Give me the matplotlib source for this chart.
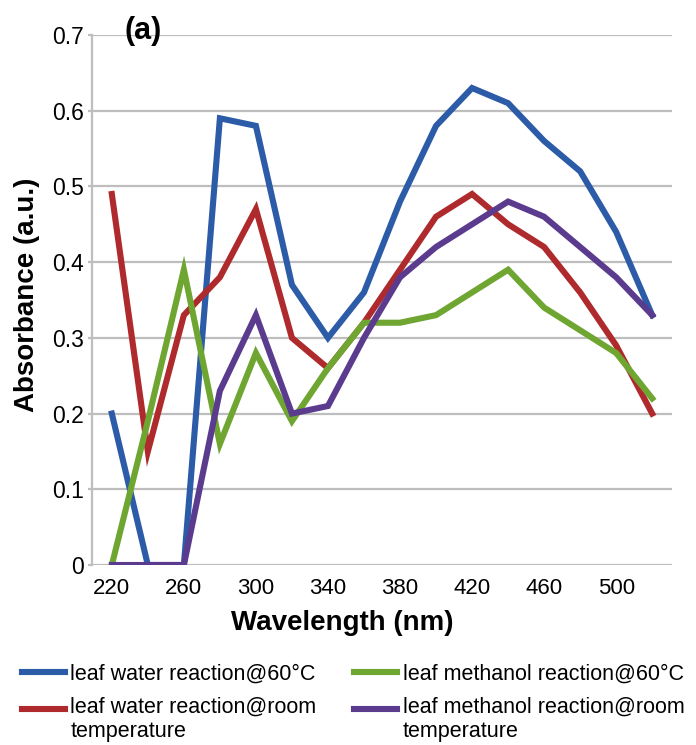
import matplotlib
matplotlib.use('Agg')
import matplotlib.pyplot as plt
from matplotlib.legend_handler import HandlerLine2D
import numpy as np

plt.rcParams['font.family'] = ['Liberation Sans', 'DejaVu Sans']

# wavelengths (nm)
wavelength = [220, 240, 260, 280, 300, 320, 340, 360, 380, 400, 420, 440, 460, 480, 500, 520]

# absorbance values
water_60 = [0.20, 0.00, 0.00, 0.59, 0.58, 0.37, 0.30, 0.36, 0.48, 0.58, 0.63, 0.61, 0.56, 0.52, 0.44, 0.33]
water_room = [0.49, 0.15, 0.33, 0.38, 0.47, 0.30, 0.26, 0.32, 0.39, 0.46, 0.49, 0.45, 0.42, 0.36, 0.29, 0.20]
methanol_60 = [0.00, 0.19, 0.39, 0.16, 0.28, 0.19, 0.26, 0.32, 0.32, 0.33, 0.36, 0.39, 0.34, 0.31, 0.28, 0.22]
methanol_room = [0.00, 0.00, 0.00, 0.23, 0.33, 0.20, 0.21, 0.30, 0.38, 0.42, 0.45, 0.48, 0.46, 0.42, 0.38, 0.33]

labels = ['leaf water reaction@60°C',
          'leaf water reaction@room\ntemperature',
          'leaf methanol reaction@60°C',
          'leaf methanol reaction@room\ntemperature']

x_ticks = [220, 260, 300, 340, 380, 420, 460, 500]
y_ticks = [0, 0.1, 0.2, 0.3, 0.4, 0.5, 0.6, 0.7]
y_ticklabels = ['0', '0.1', '0.2', '0.3', '0.4', '0.5', '0.6', '0.7']

colors = ['#2C5BA8', '#AF2A2C', '#6FA631', '#5B3B8E']
grid_col = '#BEBEBE'


# legend handle that sits on the first line of a two-line label
class FirstLineHandler(HandlerLine2D):
    def create_artists(self, legend, orig_handle, xdescent, ydescent, width, height, fontsize, trans):
        arts = super().create_artists(legend, orig_handle, xdescent, ydescent, width, height, fontsize, trans)
        for a in arts:
            a.set_ydata(np.asarray(a.get_ydata()) + 0.5 * fontsize)
        return arts


fig = plt.figure(figsize=(6.96, 7.45), dpi=100)
ax = fig.add_axes([92/696, 180/745, 580/696, 530/745])

lines = []
for series, lab, col in zip([water_60, water_room, methanol_60, methanol_room], labels, colors):
    ln, = ax.plot(wavelength, series, color=col, lw=4.4, label=lab, solid_joinstyle='miter')
    lines.append(ln)

ax.set_xlim(209, 531)
ax.set_ylim(0, 0.7)
ax.set_yticks(y_ticks)
ax.set_yticklabels(y_ticklabels)
ax.set_xticks(x_ticks)
ax.set_xticklabels([str(v) for v in x_ticks])

ax.grid(axis='y', color=grid_col, lw=1.6)
ax.set_axisbelow(True)
for s in ['top', 'right', 'bottom']:
    ax.spines[s].set_visible(False)
ax.spines['left'].set_color(grid_col)
ax.spines['left'].set_linewidth(1.6)

ax.tick_params(axis='y', labelsize=16.5, length=3, width=1.6, color=grid_col, pad=3)
ax.tick_params(axis='x', labelsize=16, length=0, pad=9)

ax.set_xlabel('Wavelength (nm)', fontsize=20, fontweight='bold')
ax.xaxis.set_label_coords(0.431, -0.085)
ax.set_ylabel('Absorbance (a.u.)', fontsize=20, fontweight='bold')
ax.yaxis.set_label_coords(-0.09, 0.51)

fig.text(143/696, 1 - 31/745, '(a)', fontsize=22, fontweight='bold', ha='center', va='center')

fig.legend(handles=lines, loc='upper left', bbox_to_anchor=(22/696, 1 - 664/745), ncol=2, frameon=False,
           fontsize=15.5, handlelength=2.0, handletextpad=0.25, columnspacing=1.75,
           labelspacing=0.55, borderpad=0, borderaxespad=0,
           handler_map={lines[1]: FirstLineHandler(), lines[3]: FirstLineHandler()})

fig.savefig('out.png', dpi=100)
